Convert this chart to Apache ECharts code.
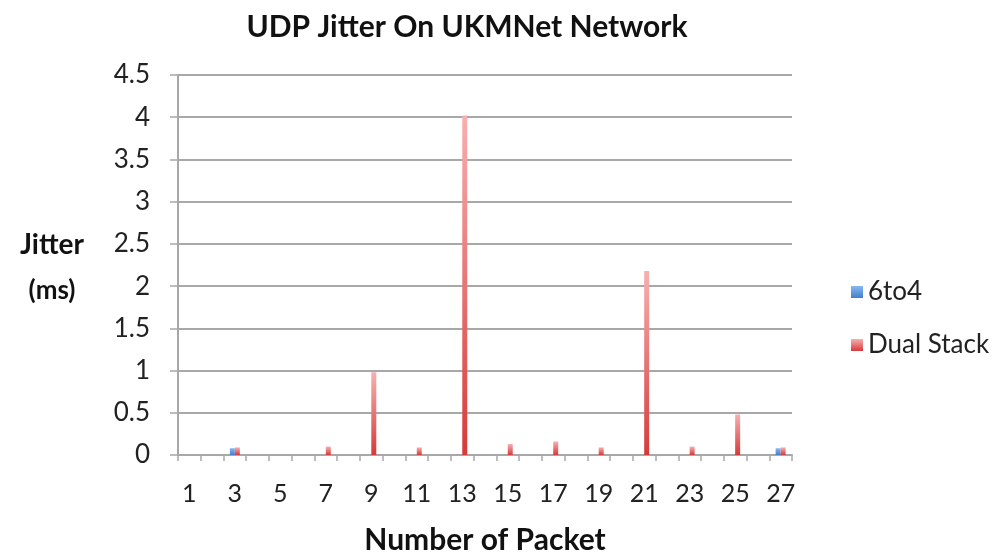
<!DOCTYPE html>
<html>
<head>
<meta charset="utf-8">
<script src="https://cdn.jsdelivr.net/npm/echarts@6/dist/echarts.min.js"></script>
<style>
  html, body { margin: 0; padding: 0; background: #fff; }
  #chart { width: 999px; height: 557px; }
</style>
</head>
<body>
<div id="chart"></div>
<script>
// Packet numbers 1..27
const packets = ['1','2','3','4','5','6','7','8','9','10','11','12','13','14','15','16','17','18','19','20','21','22','23','24','25','26','27'];
// UDP jitter (ms) per packet
const jitter6to4 =      [0, 0, 0.08, 0, 0, 0, 0, 0, 0, 0, 0, 0, 0, 0, 0, 0, 0, 0, 0, 0, 0, 0, 0, 0, 0, 0, 0.08];
const jitterDualStack = [0, 0, 0.09, 0, 0, 0, 0.1, 0, 0.98, 0, 0.09, 0, 4.02, 0, 0.13, 0, 0.16, 0, 0.09, 0, 2.18, 0, 0.1, 0, 0.48, 0, 0.09];
const yTicks = { min: 0, max: 4.5, step: 0.5 };

const FONT = 'Lato';
const chart = echarts.init(document.getElementById('chart'));

function grad(top, bottom) {
  return new echarts.graphic.LinearGradient(0, 0, 0, 1, [
    { offset: 0, color: top },
    { offset: 1, color: bottom }
  ]);
}

chart.setOption({
  backgroundColor: '#ffffff',
  animation: false,
  textStyle: { fontFamily: FONT },
  title: [{
    text: 'UDP Jitter On UKMNet Network',
    left: 462, top: 7, textAlign: 'center',
    textStyle: { fontFamily: FONT, fontWeight: 'bold', fontSize: 30, color: '#111' }
  }, {
    text: 'Jitter',
    left: 47, top: 226, textAlign: 'center',
    textStyle: { fontFamily: FONT, fontWeight: 'bold', fontSize: 28, color: '#111' }
  }, {
    text: '(ms)',
    left: 47, top: 273, textAlign: 'center',
    textStyle: { fontFamily: FONT, fontWeight: 'bold', fontSize: 26, color: '#111' }
  }],
  legend: {
    orient: 'vertical',
    left: 846, top: 274,
    itemGap: 27,
    itemWidth: 12, itemHeight: 12,
    icon: 'rect',
    textStyle: { fontFamily: FONT, fontSize: 26, color: '#222' },
    data: ['6to4', 'Dual Stack']
  },
  grid: { left: 178, right: 207, top: 75, bottom: 102, containLabel: false, outerBoundsMode: 'none' },
  xAxis: {
    type: 'category',
    data: packets,
    name: 'Number of Packet',
    nameLocation: 'middle',
    nameGap: 70,
    nameTextStyle: { fontFamily: FONT, fontWeight: 'bold', fontSize: 30, color: '#111' },
    axisLine: { lineStyle: { color: '#a8a8a8', width: 2 } },
    axisTick: { show: true, interval: 0, length: 6, lineStyle: { color: '#a8a8a8', width: 1.5 } },
    axisLabel: { interval: 1, margin: 26, fontFamily: FONT, fontSize: 25, color: '#222' }
  },
  yAxis: {
    type: 'value',
    min: yTicks.min, max: yTicks.max, interval: yTicks.step,
    axisLine: { show: true, lineStyle: { color: '#a8a8a8', width: 2 } },
    axisTick: { show: true, length: 8, lineStyle: { color: '#a8a8a8', width: 1.5 } },
    axisLabel: { margin: 28, fontFamily: FONT, fontSize: 26, color: '#222' },
    splitLine: { lineStyle: { color: '#a8a8a8', width: 2 } }
  },
  series: [{
    name: '6to4',
    type: 'bar',
    data: jitter6to4,
    barWidth: 5,
    barGap: '0%',
    itemStyle: { color: grad('#8ab8ee', '#3f7fd0') }
  }, {
    name: 'Dual Stack',
    type: 'bar',
    data: jitterDualStack,
    barWidth: 5,
    itemStyle: { color: grad('#f7b0b0', '#d63a3a') }
  }]
});
</script>
</body>
</html>
